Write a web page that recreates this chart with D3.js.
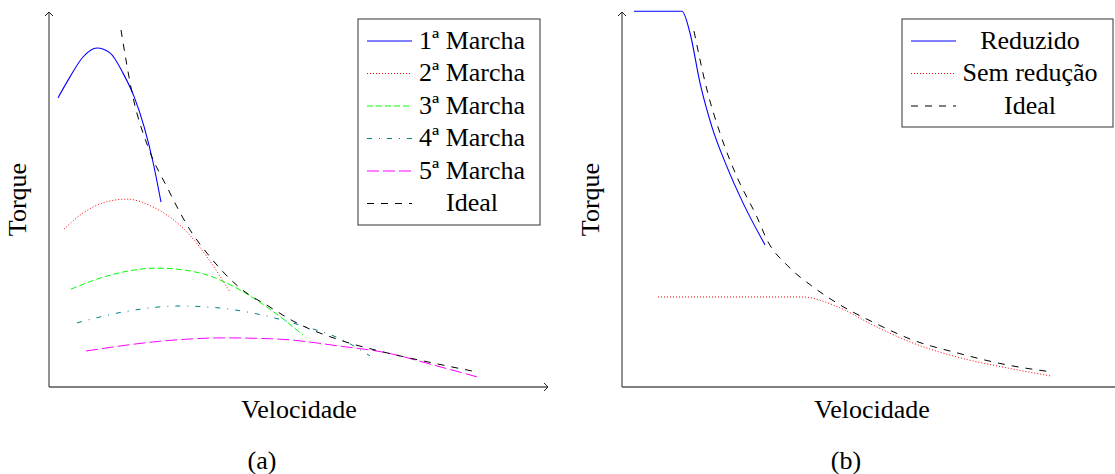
<!DOCTYPE html>
<html><head><meta charset="utf-8">
<script src="https://cdn.jsdelivr.net/npm/d3@7"></script>
<style>
body{margin:0;background:#fff}
svg{display:block}
</style>
</head><body><svg id="c" width="1115" height="474"></svg>
<script>
// ---------- data (Velocidade 0..100, Torque 0..100, arbitrary units) ----------
const marcha1 = [[1.8,77.1],[4.2,82.7],[6.8,88.0],[9.6,90.4],[12.2,89.1],[14.8,83.7],[17.0,77.5],[19.0,69.5],[20.8,60.0],[22.4,49.3]];
const marcha2 = [[3.0,42.1],[6.8,46.4],[10.8,49.1],[15.6,50.1],[20.8,48.0],[27.6,41.3],[31.6,34.7],[36.2,25.3]];
const marcha3 = [[4.4,26.1],[11.6,29.6],[21.6,31.7],[30.2,30.4],[35.6,27.7],[43.6,21.3],[50.8,13.9]];
const marcha4 = [[5.6,17.1],[14.8,20.0],[26.2,21.6],[34.6,21.0],[43.6,18.9],[50.2,16.5],[58.8,12.5],[64.2,8.3]];
const marcha5 = [[7.4,9.6],[24.8,12.5],[34.8,13.1],[45.6,12.8],[58.2,10.9],[67.6,9.1],[76.8,5.9],[85.6,2.7]];
const idealA  = [[14.4,95.2],[16.8,77.3],[19.8,64.0],[23.6,53.3],[28.2,41.9],[31.6,35.7],[38.2,26.4],[44.2,21.3],[48.8,17.6],[58.2,12.5],[67.6,9.1],[76.8,6.4],[85.6,4.0]];

const reduzido    = [[2.4,100.2],[12.0,100.2],[13.6,94.4],[15.6,81.1],[18.0,69.3],[21.0,58.7],[24.2,49.1],[28.6,37.9]];
const semReducao  = [[7.2,24.0],[36.0,24.0],[43.6,21.1],[50.2,16.5],[58.2,11.7],[67.0,8.0],[77.0,5.1],[86.0,2.9]];
const idealB      = [[14.4,94.9],[17.0,79.2],[19.6,67.7],[23.0,56.0],[27.0,45.3],[29.2,38.7],[33.0,32.5],[38.2,26.7],[43.6,21.9],[50.2,17.3],[58.2,12.5],[67.0,9.1],[77.0,5.9],[86.0,4.0]];

const legendA = ["1ª Marcha","2ª Marcha","3ª Marcha","4ª Marcha","5ª Marcha","Ideal"];
const legendB = ["Reduzido","Sem redução","Ideal"];
const xLabel = "Velocidade";
const yLabel = "Torque";
const captions = ["(a)","(b)"];

// ---------- styles ----------
const st = {
  blue:   {c:"#0000ff", w:1.1, d:null},
  red:    {c:"#ff0000", w:1,   d:"1,2"},
  green:  {c:"#00ff00", w:1,   d:"6,3"},
  teal:   {c:"#008080", w:1,   d:"5,7,1,7"},
  magenta:{c:"#ff00ff", w:1,   d:"12,4"},
  ideal:  {c:"#000000", w:1,   d:"7,7"}
};

const svg = d3.select("#c");

function txt(g){
  return g.append("text").style("font-family","'Liberation Serif'")
    .attr("font-size",26).attr("fill","#000");
}

function panel(cfg){
  const x = d3.scaleLinear().domain([0,100]).range([cfg.x0, cfg.x0+500]);
  const y = d3.scaleLinear().domain([0,100]).range([387, 12]);
  const g = svg.append("g");
  const line = d3.line().x(d=>x(d[0])).y(d=>y(d[1])).curve(d3.curveMonotoneX);

  // axes
  const axC = "#555";
  g.append("line").attr("x1",x(0)).attr("y1",y(0)).attr("x2",x(0)).attr("y2",y(100))
    .attr("stroke",axC).attr("stroke-width",1.3);
  g.append("line").attr("x1",x(0)).attr("y1",y(0)).attr("x2",x(99.8)).attr("y2",y(0))
    .attr("stroke",axC).attr("stroke-width",1.3);
  const ax = x(0), ay = y(100);
  g.append("path").attr("d",`M${ax-4},${ay+4}L${ax},${ay}L${ax+4},${ay+4}`)
    .attr("fill","none").attr("stroke","#222").attr("stroke-width",1);
  const bx = x(99.8), by = y(0);
  g.append("path").attr("d",`M${bx-4},${by-4}L${bx},${by}L${bx-4},${by+4}`)
    .attr("fill","none").attr("stroke","#222").attr("stroke-width",1);

  // series
  cfg.series.forEach(s=>{
    g.append("path").datum(s.data).attr("d",line)
      .attr("fill","none").attr("stroke",s.st.c).attr("stroke-width",s.st.w)
      .attr("stroke-dasharray",s.st.d);
  });

  // labels
  txt(g).attr("x",x(50)).attr("y",418).attr("text-anchor","middle").text(xLabel);
  txt(g).attr("transform",`translate(${x(0)-23},${(y(0)+y(100))/2}) rotate(-90)`)
    .attr("text-anchor","middle").text(yLabel);
  txt(g).attr("x",cfg.capX).attr("y",469).attr("text-anchor","middle").text(cfg.caption);

  // legend
  const L = cfg.legend;
  g.append("rect").attr("x",L.x).attr("y",L.y).attr("width",L.w).attr("height",L.h)
    .attr("fill","#fff").attr("stroke","#333").attr("stroke-width",1);
  L.items.forEach((t,i)=>{
    const s = cfg.series[i].st;
    const ly = L.y0 + i*32.5;
    g.append("line").attr("x1",L.lx1).attr("x2",L.lx2).attr("y1",ly).attr("y2",ly)
      .attr("stroke",s.c).attr("stroke-width",s.w).attr("stroke-dasharray",s.d);
    txt(g).attr("x",L.tx).attr("y",ly+7.5).attr("text-anchor","middle").text(t);
  });
}

panel({
  x0:49, caption:captions[0], capX:262,
  series:[
    {data:marcha1, st:st.blue},
    {data:marcha2, st:st.red},
    {data:marcha3, st:st.green},
    {data:marcha4, st:st.teal},
    {data:marcha5, st:st.magenta},
    {data:idealA,  st:st.ideal}
  ],
  legend:{x:358,y:19,w:182,h:206,y0:41,lx1:367,lx2:412,tx:472,items:legendA}
});

panel({
  x0:622, caption:captions[1], capX:846,
  series:[
    {data:reduzido,   st:st.blue},
    {data:semReducao, st:st.red},
    {data:idealB,     st:st.ideal}
  ],
  legend:{x:902,y:19,w:211,h:108,y0:41,lx1:911,lx2:956,tx:1030,items:legendB}
});
</script>
</body></html>
